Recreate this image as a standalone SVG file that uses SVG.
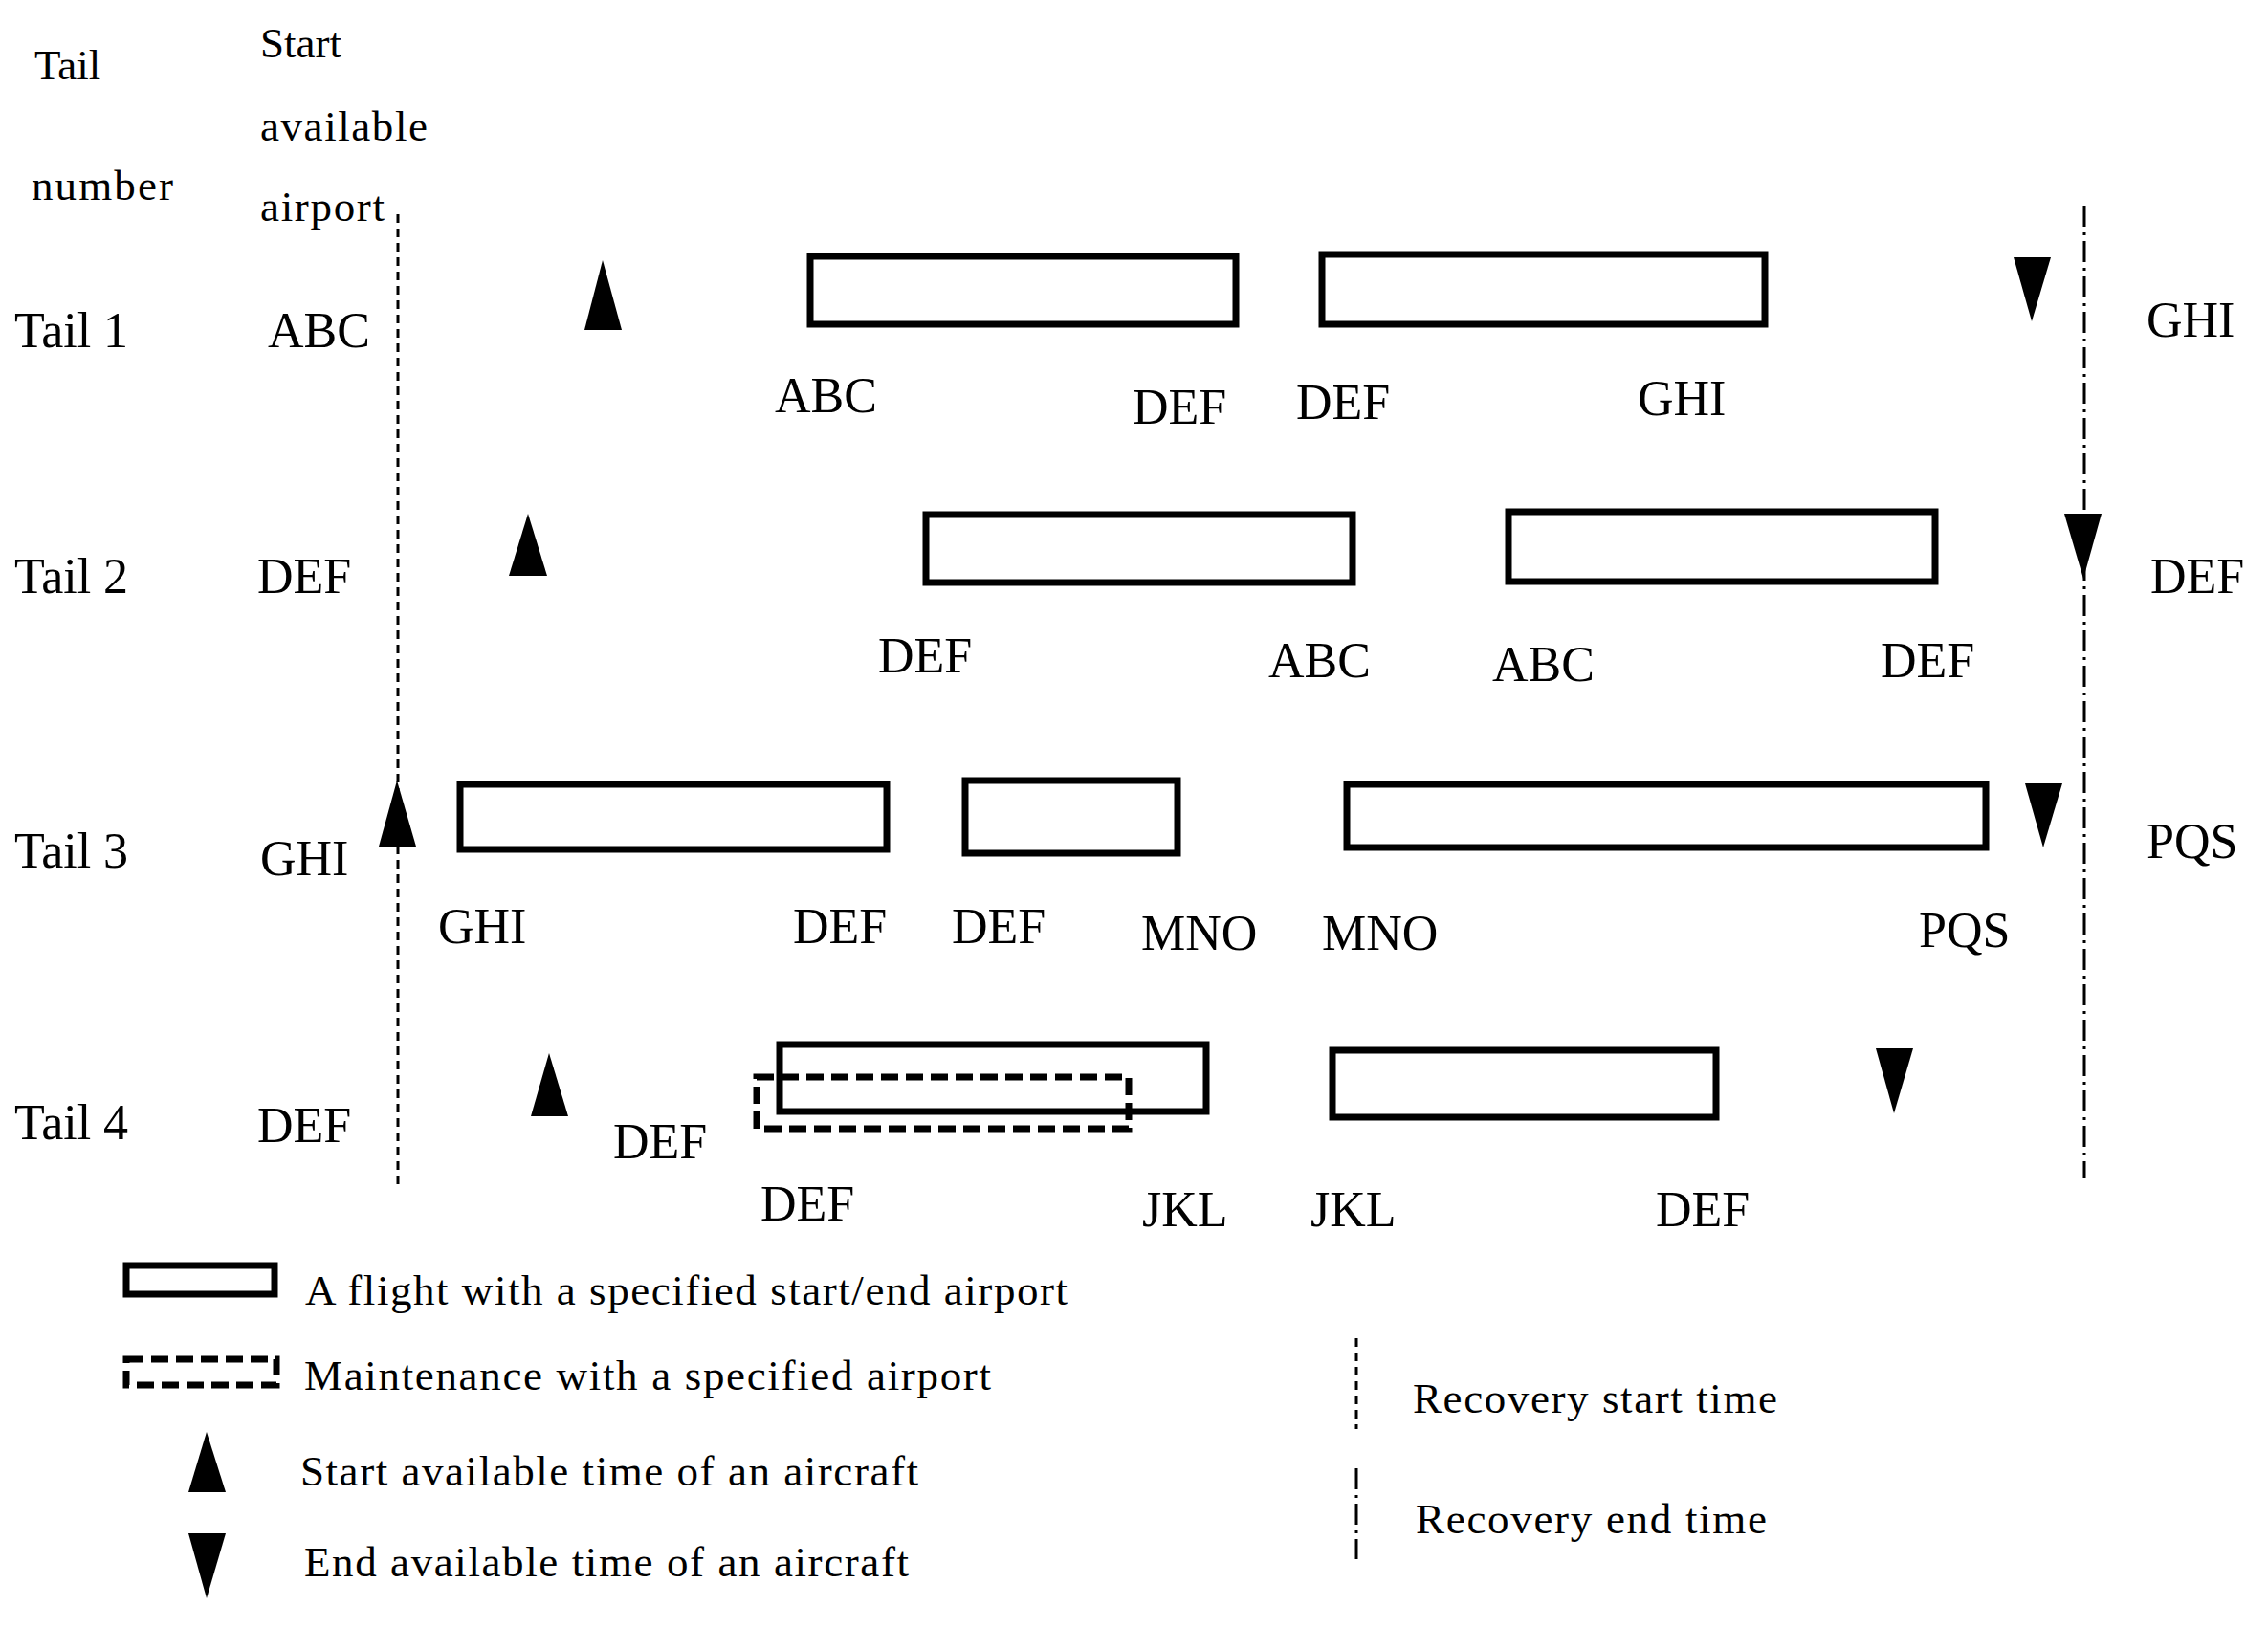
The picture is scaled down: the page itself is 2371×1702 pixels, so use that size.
<svg xmlns="http://www.w3.org/2000/svg" width="2371" height="1702" viewBox="0 0 2371 1702">
<style>
text{font-family:"Liberation Serif","Times New Roman",serif;fill:#000}
.h{font-size:45px}.r{font-size:52px}.l{font-size:52px}.g{font-size:45px}
.f{fill:none;stroke:#000;stroke-width:7}
.m{fill:none;stroke:#000;stroke-width:7;stroke-dasharray:18 8}
.t{fill:#000}
</style>
<rect width="2371" height="1702" fill="#fff"/>
<g id="header"><text class="h" x="36" y="83">Tail</text><text class="h" x="33" y="209" textLength="148">number</text>
<text class="h" x="272" y="60">Start</text><text class="h" x="272" y="147" textLength="175">available</text><text class="h" x="272" y="231" textLength="130">airport</text></g>
<g id="connectors">
<line x1="416" y1="224" x2="416" y2="1243" stroke="#000" stroke-width="3" stroke-dasharray="9 6"/>
<line x1="2179" y1="215" x2="2179" y2="1232" stroke="#000" stroke-width="3" stroke-dasharray="22 6 3 6"/>
</g>
<g id="tail1"><text class="r" x="15" y="363">Tail 1</text><text class="r" x="280" y="363">ABC</text><text class="r" x="2244" y="352">GHI</text>
<polygon class="t" points="611,345 650,345 630,272"/><polygon class="t" points="2105,269 2144,269 2124,336"/>
<rect class="f" x="847" y="268" width="445" height="71"/><rect class="f" x="1382" y="266" width="463" height="73"/>
<text class="l" x="810" y="431">ABC</text><text class="l" x="1184" y="443">DEF</text><text class="l" x="1355" y="438">DEF</text><text class="l" x="1712" y="434">GHI</text></g>
<g id="tail2"><text class="r" x="15" y="620">Tail 2</text><text class="r" x="269" y="620">DEF</text><text class="r" x="2248" y="620">DEF</text>
<polygon class="t" points="532,602 572,602 552,537"/><polygon class="t" points="2158,537 2197,537 2178,605"/>
<rect class="f" x="968" y="538" width="446" height="71"/><rect class="f" x="1577" y="535" width="446" height="73"/>
<text class="l" x="918" y="703">DEF</text><text class="l" x="1326" y="708">ABC</text><text class="l" x="1560" y="712">ABC</text><text class="l" x="1966" y="708">DEF</text></g>
<g id="tail3"><text class="r" x="15" y="907">Tail 3</text><text class="r" x="272" y="915">GHI</text><text class="r" x="2244" y="897">PQS</text>
<polygon class="t" points="396,885 435,885 415,816"/><polygon class="t" points="2117,819 2156,819 2136,886"/>
<rect class="f" x="481" y="820" width="446" height="68"/><rect class="f" x="1009" y="816" width="222" height="76"/><rect class="f" x="1408" y="820" width="668" height="66"/>
<text class="l" x="458" y="986">GHI</text><text class="l" x="829" y="986">DEF</text><text class="l" x="995" y="986">DEF</text><text class="l" x="1193" y="993">MNO</text><text class="l" x="1382" y="993">MNO</text><text class="l" x="2006" y="990">PQS</text></g>
<g id="tail4"><text class="r" x="15" y="1191">Tail 4</text><text class="r" x="269" y="1194">DEF</text>
<polygon class="t" points="555,1167 594,1167 574,1101"/><polygon class="t" points="1961,1096 2000,1096 1980,1164"/>
<rect class="f" x="815" y="1092" width="446" height="70"/><rect class="m" x="791" y="1126" width="389" height="54"/><rect class="f" x="1393" y="1098" width="401" height="70"/>
<text class="l" x="641" y="1211">DEF</text><text class="l" x="795" y="1276">DEF</text><text class="l" x="1194" y="1282">JKL</text><text class="l" x="1370" y="1282">JKL</text><text class="l" x="1731" y="1282">DEF</text></g>
<g id="legend">
<rect class="f" x="132" y="1323" width="155" height="30"/><text class="g" x="319" y="1364" textLength="797">A flight with a specified start/end airport</text>
<rect class="m" x="132" y="1421" width="157" height="27"/><text class="g" x="318" y="1453" textLength="718">Maintenance with a specified airport</text>
<polygon class="t" points="197,1560 236,1560 216,1497"/><text class="g" x="314" y="1553" textLength="646">Start available time of an aircraft</text>
<polygon class="t" points="197,1603 236,1603 216,1671"/><text class="g" x="318" y="1648" textLength="632">End available time of an aircraft</text>
<line x1="1418" y1="1399" x2="1418" y2="1494" stroke="#000" stroke-width="3" stroke-dasharray="9 6"/><text class="g" x="1477" y="1477" textLength="381">Recovery start time</text>
<line x1="1418" y1="1535" x2="1418" y2="1630" stroke="#000" stroke-width="3" stroke-dasharray="22 6 3 6"/><text class="g" x="1480" y="1603" textLength="367">Recovery end time</text>
</g>
</svg>
